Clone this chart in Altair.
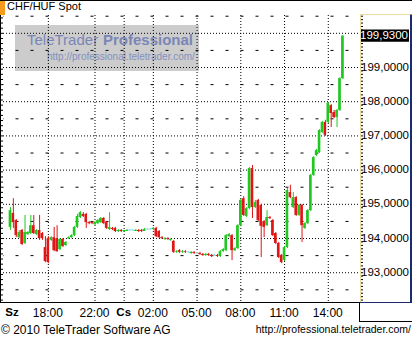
import altair as alt
import pandas as pd

title_text = "CHF/HUF Spot"
brand_a = "TeleTrader"
brand_b = "Professional"
brand_url = "http://professional.teletrader.com/"
copyright_text = "© 2010 TeleTrader Software AG"

open_vals = [194.34, 194.75, 194.54, 194.04, 194.25, 193.87, 194.13, 194.16, 194.39, 194.13,
             194.25, 194.16, 193.75, 194.01, 193.96, 194.04, 194.01, 193.69, 193.99, 193.81,
             194.01, 194.04, 194.10, 194.34, 194.63, 194.72, 194.72, 194.48, 194.48, 194.42,
             194.45, 194.48, 194.60, 194.48, 194.28, 194.31, 194.31, 194.22, 194.25, 194.22,
             194.22, 194.25, 194.25, 194.22, 194.25, 194.25, 194.22, 194.28, 194.28, 194.28,
             194.31, 194.22, 194.04, 193.99, 194.01, 193.96, 193.93, 193.61, 193.66, 193.61,
             193.63, 193.61, 193.58, 193.61, 193.58, 193.58, 193.55, 193.52, 193.55, 193.52,
             193.52, 193.52, 193.49, 193.63, 193.66, 194.07, 194.10, 193.66, 193.72, 194.39,
             195.18, 194.66, 194.89, 196.06, 194.92, 195.13, 194.98, 194.51, 194.39, 194.63,
             194.54, 194.16, 193.87, 193.52, 193.37, 193.75, 195.36, 194.92, 195.21, 194.69,
             194.98, 194.31, 194.45, 194.83, 195.86, 196.44, 196.53, 197.11, 197.41, 197.41,
             197.90, 197.70, 197.55, 197.76, 198.69]
high_vals = [194.92, 195.18, 194.57, 194.25, 194.28, 194.69, 194.22, 194.69, 194.69, 194.28,
             194.69, 194.19, 194.07, 194.07, 194.07, 194.34, 194.39, 194.01, 194.01, 193.93,
             194.07, 194.13, 194.37, 194.72, 194.80, 194.77, 194.75, 194.51, 194.51, 194.51,
             194.57, 194.63, 194.63, 194.51, 194.77, 194.34, 194.34, 194.28, 194.28, 194.25,
             194.28, 194.28, 194.28, 194.28, 194.28, 194.28, 194.31, 194.31, 194.31, 194.34,
             194.34, 194.25, 194.07, 194.04, 194.04, 194.01, 193.96, 193.66, 193.69, 193.66,
             193.66, 193.63, 193.63, 193.63, 193.61, 193.61, 193.58, 193.58, 193.58, 193.55,
             193.55, 193.55, 193.66, 193.72, 194.13, 194.16, 194.13, 193.75, 194.42, 195.16,
             195.24, 194.92, 196.09, 196.15, 195.13, 195.16, 195.01, 194.54, 194.83, 194.66,
             194.57, 194.19, 193.90, 193.55, 193.78, 195.48, 195.57, 195.36, 195.24, 195.01,
             195.01, 194.48, 194.86, 195.89, 196.41, 196.62, 197.20, 197.44, 197.47, 197.99,
             197.93, 197.76, 197.79, 198.72, 199.95]
low_vals = [194.25, 194.31, 194.04, 194.01, 193.81, 193.84, 194.10, 194.13, 194.13, 194.10,
            193.96, 193.96, 193.31, 193.28, 193.93, 193.63, 193.61, 193.66, 193.75, 193.78,
            193.99, 194.01, 194.07, 194.31, 194.60, 194.63, 194.31, 194.42, 194.42, 194.39,
            194.42, 194.45, 194.42, 194.28, 194.25, 194.25, 194.19, 194.19, 194.19, 194.19,
            194.22, 194.22, 194.22, 194.22, 194.19, 194.19, 194.22, 194.25, 194.25, 194.25,
            194.04, 194.01, 193.99, 193.96, 193.96, 193.93, 193.58, 193.58, 193.58, 193.58,
            193.58, 193.58, 193.55, 193.55, 193.55, 193.52, 193.49, 193.49, 193.49, 193.46,
            193.49, 193.46, 193.46, 193.61, 193.63, 194.04, 193.37, 193.63, 193.69, 194.37,
            194.66, 194.63, 194.86, 194.60, 194.89, 194.51, 193.46, 194.04, 194.37, 194.57,
            194.07, 193.84, 193.43, 193.28, 193.34, 193.72, 195.18, 194.89, 194.66, 194.66,
            193.90, 194.28, 194.42, 194.80, 195.83, 196.41, 196.50, 197.09, 197.00, 197.38,
            197.26, 197.52, 197.26, 197.73, 198.66]
close_vals = [194.83, 194.48, 194.10, 194.19, 193.84, 194.19, 194.19, 194.39, 194.16, 194.25,
              194.01, 194.01, 193.34, 193.31, 194.04, 193.66, 193.63, 193.99, 193.78, 193.90,
              194.04, 194.10, 194.34, 194.66, 194.77, 194.66, 194.48, 194.45, 194.45, 194.48,
              194.54, 194.60, 194.45, 194.31, 194.34, 194.28, 194.22, 194.25, 194.22, 194.25,
              194.25, 194.25, 194.25, 194.25, 194.22, 194.22, 194.28, 194.28, 194.28, 194.31,
              194.07, 194.04, 194.01, 194.01, 193.99, 193.99, 193.61, 193.63, 193.61, 193.63,
              193.61, 193.61, 193.61, 193.58, 193.58, 193.55, 193.52, 193.55, 193.52, 193.49,
              193.52, 193.49, 193.63, 193.69, 194.10, 194.13, 193.66, 193.72, 194.39, 195.13,
              194.69, 194.89, 196.06, 194.92, 195.07, 194.54, 194.37, 194.34, 194.63, 194.60,
              194.10, 193.87, 193.46, 193.31, 193.75, 195.42, 195.21, 195.21, 194.69, 194.98,
              194.39, 194.45, 194.83, 195.86, 196.38, 196.59, 197.17, 197.41, 197.03, 197.96,
              197.67, 197.55, 197.76, 198.69, 199.93]

hour_labels = ["18:00", "22:00", "02:00", "05:00", "08:00", "11:00", "14:00"]
hour_pos = [13, 29, 49, 64, 79, 94, 109]
day_labels = ["Sz", "Cs"]
day_pos = [0.7, 39]
y_label_values = [193, 194, 195, 196, 197, 198, 199]
grid_levels = [193, 194, 195, 196, 197, 198, 199, 200]
half_levels = [192.5, 193.5, 194.5, 195.5, 196.5, 197.5, 198.5, 199.5, 200.5]
axis_ticks = [round(192.2 + 0.1 * k, 1) for k in range(84)]
left_ticks = [round(192.2 + 0.15 * k, 2) for k in range(57)]

FONT = "Liberation Sans"
df = pd.DataFrame({"i": list(range(len(close_vals))), "open": open_vals,
                   "high": high_vals, "low": low_vals, "close": close_vals})

xs = alt.Scale(domain=[-2 / 3, 355 / 3], nice=False, zero=False)
ys = alt.Scale(domain=[192.144, 200.594], nice=False, zero=False)


def one(**cols):
    return alt.Chart(pd.DataFrame(cols if cols else {"k": [0]}))


def seg(x, x2, y, y2, color="black", width=1):
    return one().mark_rule(color=color, strokeWidth=width).encode(
        x=alt.value(x), x2=alt.value(x2), y=alt.value(y), y2=alt.value(y2))


# watermark
wm_rect = one().mark_rect(color="#c6c6c6", opacity=0.9).encode(
    x=alt.value(12), x2=alt.value(196), y=alt.value(12), y2=alt.value(58))
wm_a = one(t=[brand_a]).mark_text(align="left", baseline="middle", font=FONT, fontSize=15,
                                  color="#7a86b6").encode(x=alt.value(24), y=alt.value(27), text="t:N")
wm_b = one(t=[brand_b]).mark_text(align="left", baseline="middle", font=FONT, fontSize=15,
                                  fontWeight="bold", color="#7a86b6").encode(x=alt.value(100), y=alt.value(27), text="t:N")
wm_url = one(t=[brand_url]).mark_text(align="left", baseline="middle", font=FONT, fontSize=10,
                                      color="#8390bf").encode(x=alt.value(44), y=alt.value(44), text="t:N")

# grid
hgrid = alt.Chart(pd.DataFrame({"v": grid_levels})).mark_rule(
    color="black", strokeDash=[1, 2], strokeWidth=1).encode(
    y=alt.Y("v:Q", scale=ys, axis=None), x=alt.value(0), x2=alt.value(357))
hdash = alt.Chart(pd.DataFrame({"v": half_levels})).mark_rule(
    color="black", strokeDash=[3, 12], strokeDashOffset=2.5, strokeWidth=1).encode(
    y=alt.Y("v:Q", scale=ys, axis=None), x=alt.value(0), x2=alt.value(357))
vgrid = alt.Chart(pd.DataFrame({"p": hour_pos + [day_pos[1]]})).mark_rule(
    color="black", strokeDash=[1, 2], strokeWidth=1, xOffset=0.5).encode(
    x=alt.X("p:Q", scale=xs, axis=None), y=alt.value(2), y2=alt.value(289))

# candles
base = alt.Chart(df).transform_calculate(
    dir="datum.close > datum.open ? 'up' : (datum.close < datum.open ? 'down' : 'flat')",
    bTop="datum.close == datum.open ? datum.close + 0.015 : max(datum.open, datum.close)",
    bBot="datum.close == datum.open ? datum.close - 0.015 : min(datum.open, datum.close)",
)
color = alt.Color("dir:N", scale=alt.Scale(domain=["up", "down", "flat"],
                                           range=["#1ec81e", "#e01515", "#86e2ef"]), legend=None)
wicks = base.mark_rule(strokeWidth=1, xOffset=0.5).encode(
    x=alt.X("i:Q", scale=xs, axis=None),
    y=alt.Y("low:Q", scale=ys, axis=None),
    y2="high:Q", color=color)
bodies = base.mark_bar(width=2.6).encode(
    x=alt.X("i:Q", scale=xs, axis=None),
    y=alt.Y("bTop:Q", scale=ys, axis=None),
    y2="bBot:Q", color=color)

# right value axis (drawn as marks)
rticks = alt.Chart(pd.DataFrame({"v": axis_ticks})).mark_rule(color="black").encode(
    y=alt.Y("v:Q", scale=ys, axis=None), x=alt.value(358), x2=alt.value(360))
rlabels = alt.Chart(pd.DataFrame({"v": y_label_values})).transform_calculate(
    lab="replace(format(datum.v, '.4f'), '.', ',')").mark_text(
    align="right", baseline="middle", font=FONT, fontSize=11.5, color="black").encode(
    x=alt.value(406), y=alt.Y("v:Q", scale=ys, axis=None), text="lab:N")

# last price tag
last = pd.DataFrame({"close": [close_vals[-1]]})
tag = alt.Chart(last).transform_calculate(
    hi="datum.close + 0.18", lo="datum.close - 0.18").mark_rect(color="black").encode(
    x=alt.value(358), x2=alt.value(406), y=alt.Y("hi:Q", scale=ys, axis=None), y2="lo:Q")
tag_text = alt.Chart(last).transform_calculate(
    lab="replace(format(datum.close, '.4f'), '.', ',')").mark_text(
    align="right", baseline="middle", color="white", font=FONT, fontSize=11.5).encode(
    x=alt.value(405), y=alt.Y("close:Q", scale=ys, axis=None), text="lab:N")

# left minor ticks
lticks = alt.Chart(pd.DataFrame({"v": left_ticks})).mark_rule(color="black").encode(
    y=alt.Y("v:Q", scale=ys, axis=None), x=alt.value(-3), x2=alt.value(0))

# x labels
hours = alt.Chart(pd.DataFrame({"p": hour_pos, "t": hour_labels})).mark_text(
    baseline="middle", font=FONT, fontSize=12, color="black").encode(
    x=alt.X("p:Q", scale=xs, axis=None), y=alt.value(300), text="t:N")
days = alt.Chart(pd.DataFrame({"p": day_pos, "t": day_labels})).mark_text(
    baseline="middle", font=FONT, fontSize=11.5, fontWeight="bold", color="black").encode(
    x=alt.X("p:Q", scale=xs, axis=None), y=alt.value(300), text="t:N")

# header / footer
orange = one().mark_rect(color="#f59a1b").encode(
    x=alt.value(-3), x2=alt.value(2), y=alt.value(-13), y2=alt.value(2))
title = one(t=[title_text]).mark_text(align="left", baseline="middle", font=FONT, fontSize=11,
                                      color="black").encode(x=alt.value(4), y=alt.value(-6), text="t:N")
copy = one(t=[copyright_text]).mark_text(align="left", baseline="middle", font=FONT, fontSize=12,
                                         color="black").encode(x=alt.value(-2), y=alt.value(317), text="t:N")
url = one(t=[brand_url]).mark_text(align="right", baseline="middle", font=FONT, fontSize=10.5,
                                   color="black").encode(x=alt.value(408), y=alt.value(317), text="t:N")

borders = [
    seg(-3, 409, -12.5, -12.5),
    seg(-2.5, -2.5, 2, 289.5),
    seg(-3, 357, 289.5, 289.5),
    seg(357.5, 357.5, 1.5, 289.5, color="#eadc9c"),
    seg(357, 407, 1.5, 1.5, color="#eadc9c"),
    seg(408, 408, 1.5, 290, color="#1c2a6e", width=2),
    seg(357, 409, 289.5, 289.5, color="#1c2a6e"),
    seg(356.5, 356.5, 289.5, 309),
    seg(356.5, 409, 308.5, 308.5),
]

chart = alt.layer(
    wm_rect, wm_a, wm_b, wm_url, hgrid, hdash, vgrid, wicks, bodies, rticks, rlabels,
    tag, tag_text, lticks, hours, days, orange, title, copy, url, *borders
).properties(
    width=357, height=289,
    padding={"left": 3, "top": 13, "right": 52, "bottom": 38},
    autosize=alt.AutoSizeParams(type="none"),
    background="white",
).configure_view(stroke=None)

chart.save("out.html", embed_options={"renderer": "svg", "actions": False})
